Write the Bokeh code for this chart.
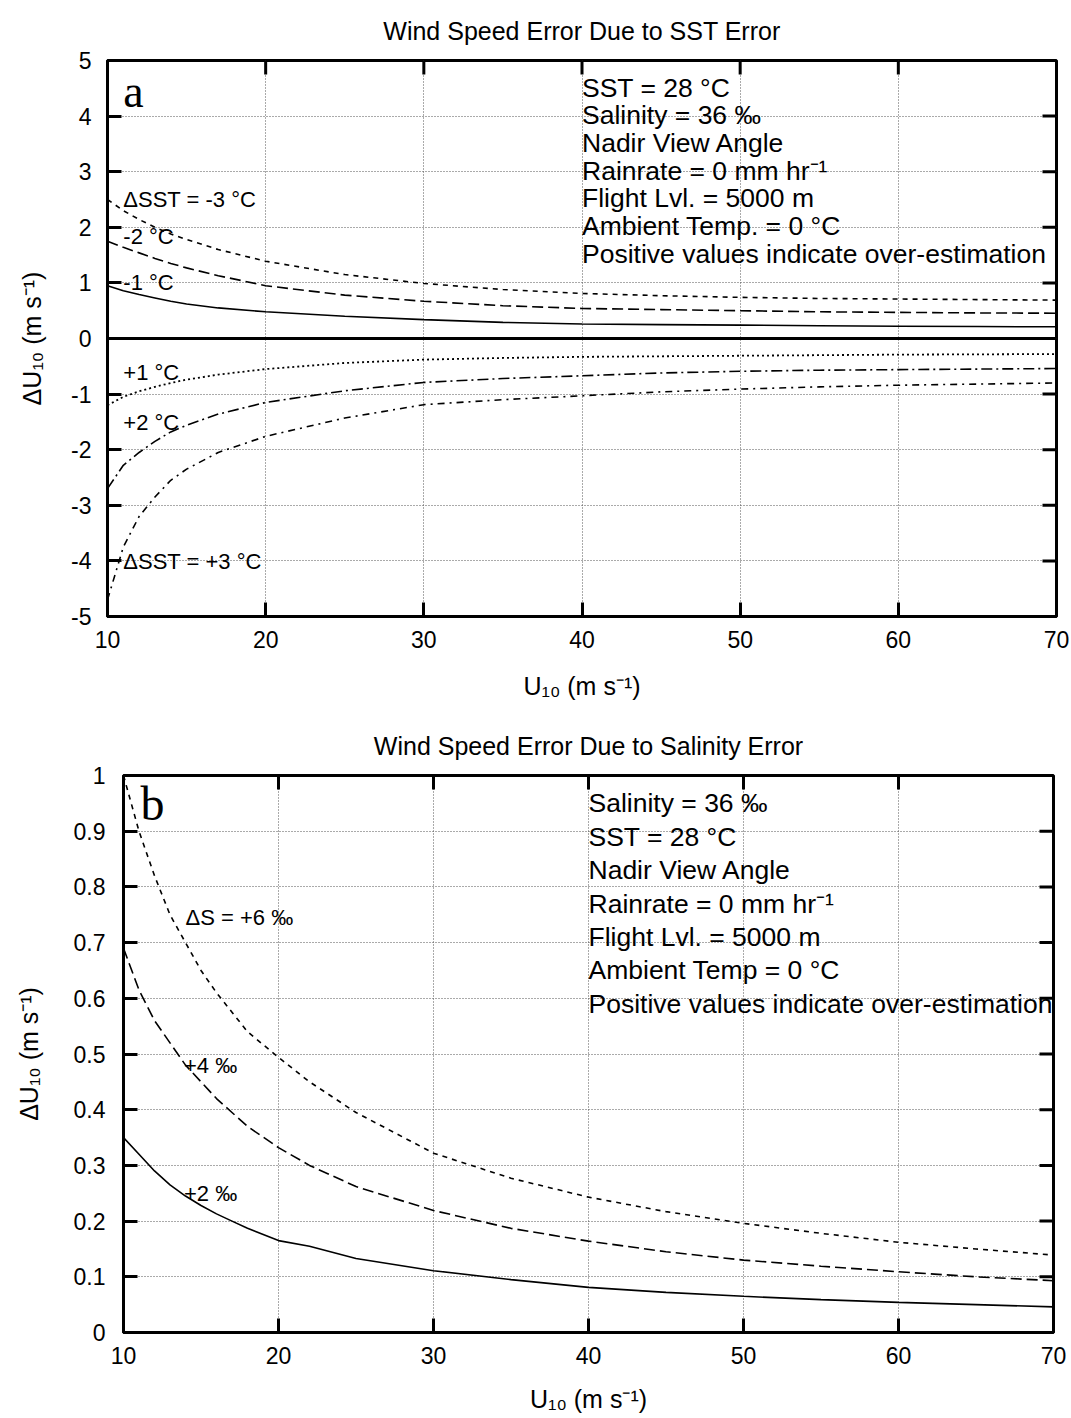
import math
from bokeh.plotting import figure
from bokeh.layouts import column
from bokeh.models import Span, Label, Range1d, FixedTicker, CustomJSTickFormatter
from bokeh.embed import file_html
from bokeh.resources import INLINE

# ---------------- data: panel a (SST error) ----------------
wind_a = [10, 11, 12, 13, 14, 15, 17, 20, 25, 30, 35, 40, 45, 50, 55, 60, 65, 70]
sst_m3 = [2.50, 2.30, 2.14, 2.00, 1.88, 1.78, 1.60, 1.39, 1.15, 0.99, 0.88, 0.81, 0.77, 0.74, 0.72, 0.71, 0.70, 0.69]
sst_m2 = [1.75, 1.64, 1.54, 1.44, 1.35, 1.27, 1.13, 0.95, 0.78, 0.67, 0.59, 0.54, 0.52, 0.50, 0.48, 0.47, 0.46, 0.455]
sst_m1 = [0.95, 0.86, 0.79, 0.73, 0.67, 0.62, 0.55, 0.48, 0.40, 0.34, 0.29, 0.26, 0.25, 0.24, 0.23, 0.22, 0.215, 0.21]
sst_p1 = [-1.20, -1.05, -0.95, -0.87, -0.80, -0.74, -0.65, -0.55, -0.44, -0.38, -0.35, -0.33, -0.32, -0.31, -0.30, -0.29, -0.285, -0.28]
sst_p2 = [-2.70, -2.28, -2.05, -1.85, -1.68, -1.56, -1.36, -1.15, -0.94, -0.79, -0.72, -0.67, -0.62, -0.59, -0.57, -0.56, -0.55, -0.54]
sst_p3 = [-4.70, -3.75, -3.20, -2.85, -2.55, -2.35, -2.05, -1.76, -1.43, -1.19, -1.10, -1.03, -0.96, -0.91, -0.87, -0.84, -0.82, -0.80]

# ---------------- data: panel b (salinity error) ----------------
wind_b = [10, 11, 12, 13, 14, 15, 16, 17, 18, 20, 22, 25, 30, 35, 40, 45, 50, 55, 60, 65, 70]
sal_p6 = [1.00, 0.90, 0.82, 0.75, 0.70, 0.65, 0.61, 0.575, 0.54, 0.494, 0.45, 0.395, 0.322, 0.277, 0.243, 0.217, 0.196, 0.178, 0.162, 0.150, 0.139]
sal_p4 = [0.69, 0.615, 0.56, 0.52, 0.48, 0.45, 0.42, 0.395, 0.37, 0.332, 0.30, 0.262, 0.219, 0.187, 0.164, 0.145, 0.130, 0.119, 0.109, 0.100, 0.093]
sal_p2 = [0.35, 0.32, 0.29, 0.265, 0.245, 0.228, 0.213, 0.200, 0.187, 0.165, 0.155, 0.133, 0.111, 0.095, 0.081, 0.072, 0.065, 0.059, 0.054, 0.050, 0.046]

x_ticks = [10, 20, 30, 40, 50, 60, 70]
y_ticks_a = [-5, -4, -3, -2, -1, 0, 1, 2, 3, 4, 5]
y_ticks_b = [0, 0.1, 0.2, 0.3, 0.4, 0.5, 0.6, 0.7, 0.8, 0.9, 1.0]

info_a = ["SST = 28 \u00b0C", "Salinity = 36 \u2030", "Nadir View Angle",
          "Rainrate = 0 mm hr\u207b\u00b9", "Flight Lvl. = 5000 m",
          "Ambient Temp. = 0 \u00b0C", "Positive values indicate over-estimation"]
info_b = ["Salinity = 36 \u2030", "SST = 28 \u00b0C", "Nadir View Angle",
          "Rainrate = 0 mm hr\u207b\u00b9", "Flight Lvl. = 5000 m",
          "Ambient Temp = 0 \u00b0C", "Positive values indicate over-estimation"]

FONT = "Liberation Sans"
SERIF = "Liberation Serif"


def make_fig(title, yticks, w, h, bl, br, bt, bb, fmt, tstand, ylstand, ylab_stand,
             xlstand, xlab_stand):
    p = figure(width=w, height=h, x_range=Range1d(x_ticks[0], x_ticks[-1]),
               y_range=Range1d(yticks[0], yticks[-1]),
               output_backend="svg", toolbar_location=None, frame_align=False,
               min_border_left=bl, min_border_right=br, min_border_top=bt, min_border_bottom=bb)
    p.title.text = title
    p.title.align = "center"
    p.title.vertical_align = "top"
    p.title.text_font = FONT
    p.title.text_font_size = "25px"
    p.title.text_font_style = "normal"
    p.title.text_color = "black"
    p.title.standoff = tstand
    p.outline_line_color = "black"
    p.outline_line_width = 3
    p.background_fill_color = "white"
    p.border_fill_color = "white"

    bottom = p.below[0]
    left = p.left[0]
    bottom.ticker = FixedTicker(ticks=x_ticks)
    left.ticker = FixedTicker(ticks=yticks)
    for ax in [bottom, left]:
        ax.major_tick_in = 14
        ax.major_tick_out = 0
        ax.major_tick_line_width = 3
        ax.minor_tick_line_color = None
        ax.axis_line_width = 3
        ax.major_label_text_font = FONT
        ax.major_label_text_font_size = "23px"
        ax.major_label_text_color = "black"
        ax.axis_label_text_font = FONT
        ax.axis_label_text_font_size = "25px"
        ax.axis_label_text_font_style = "normal"
        ax.axis_label_text_color = "black"
    left.formatter = fmt
    bottom.major_label_standoff = xlstand
    left.major_label_standoff = ylstand
    bottom.axis_label = "U\u2081\u2080 (m s\u207b\u00b9)"
    left.axis_label = "\u0394U\u2081\u2080 (m s\u207b\u00b9)"
    bottom.axis_label_standoff = xlab_stand
    left.axis_label_standoff = ylab_stand

    # mirrored inward ticks on the top and right edges of the frame
    p.ray(x=[x_ticks[-1]] * len(yticks), y=yticks, length=14, length_units="screen",
          angle=math.pi, line_color="black", line_width=3)
    p.ray(x=x_ticks, y=[yticks[-1]] * len(x_ticks), length=14, length_units="screen",
          angle=-math.pi / 2, line_color="black", line_width=3)

    p.xgrid.ticker = FixedTicker(ticks=x_ticks)
    p.ygrid.ticker = FixedTicker(ticks=yticks)
    p.grid.grid_line_color = "#555555"
    p.grid.grid_line_width = 1
    p.grid.grid_line_dash = "1 2"
    return p


def add_text(p, x, y, text, size="26.5px", font=FONT):
    p.add_layout(Label(x=x, y=y, text=text, text_font=font, text_font_size=size,
                       text_baseline="middle", text_align="left", text_color="black"))


# ---------------- panel a ----------------
fmt_a = CustomJSTickFormatter(code="return tick.toFixed(0);")
pa = make_fig("Wind Speed Error Due to SST Error", y_ticks_a,
              1071, 708, 107, 15, 60, 92, fmt_a, 28, 16, 22, 14, 21)
pa.add_layout(Span(location=0, dimension="width", line_color="black", line_width=3))
pa.line(wind_a, sst_m3, line_color="black", line_width=1.6, line_dash="5 5")
pa.line(wind_a, sst_m2, line_color="black", line_width=1.6, line_dash="11 5")
pa.line(wind_a, sst_m1, line_color="black", line_width=1.6)
pa.line(wind_a, sst_p1, line_color="black", line_width=1.8, line_dash="2 3")
pa.line(wind_a, sst_p2, line_color="black", line_width=1.6, line_dash="11 4 2 4")
pa.line(wind_a, sst_p3, line_color="black", line_width=1.6, line_dash="7 5 2 5")

add_text(pa, 11.0, 4.44, "a", size="46px", font=SERIF)
add_text(pa, 11.0, 2.50, "\u0394SST = -3 \u00b0C", size="22px")
add_text(pa, 11.0, 1.83, "-2 \u00b0C", size="22px")
add_text(pa, 11.0, 1.00, "-1 \u00b0C", size="22px")
add_text(pa, 11.0, -0.61, "+1 \u00b0C", size="22px")
add_text(pa, 11.0, -1.51, "+2 \u00b0C", size="22px")
add_text(pa, 11.0, -4.01, "\u0394SST = +3 \u00b0C", size="22px")
for i, t in enumerate(info_a):
    add_text(pa, 40.0, 4.51 - 0.497 * i, t)

# ---------------- panel b ----------------
fmt_b = CustomJSTickFormatter(code="return tick.toFixed(1).replace(/\\.0$/, '');")
pb = make_fig("Wind Speed Error Due to Salinity Error", y_ticks_b,
              1071, 710, 123, 18, 67, 86, fmt_b, 28, 18, 28, 14, 18)
pb.line(wind_b, sal_p6, line_color="black", line_width=1.6, line_dash="5 5")
pb.line(wind_b, sal_p4, line_color="black", line_width=1.6, line_dash="11 5")
pb.line(wind_b, sal_p2, line_color="black", line_width=1.6)

add_text(pb, 11.1, 0.95, "b", size="48px", font=SERIF)
add_text(pb, 14.0, 0.745, "\u0394S = +6 \u2030", size="22px")
add_text(pb, 13.9, 0.479, "+4 \u2030", size="22px")
add_text(pb, 13.9, 0.25, "+2 \u2030", size="22px")
for i, t in enumerate(info_b):
    add_text(pb, 40.0, 0.95 - 0.06 * i, t)

layout = column(pa, pb, spacing=0)
open("out.html", "w").write(file_html(layout, INLINE))
